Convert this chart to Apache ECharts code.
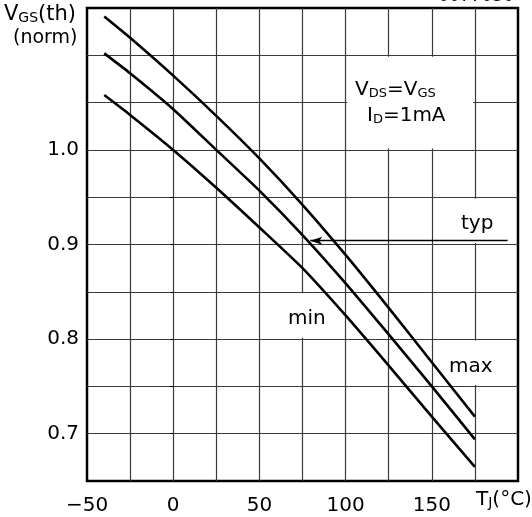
<!DOCTYPE html>
<html>
<head>
<meta charset="utf-8">
<script src="https://cdn.jsdelivr.net/npm/echarts@6/dist/echarts.min.js"></script>
<style>
html,body{margin:0;padding:0;background:#fff;}
#c{width:532px;height:517px;}
</style>
</head>
<body>
<div id="c"></div>
<script>
// Junction temperature (°C) sample points
const temps = [-40, -25, 0, 25, 50, 75, 100, 125, 150, 175];
// Normalised gate threshold voltage
const vMax = [1.141, 1.1185, 1.0785, 1.036, 0.991, 0.942, 0.889, 0.833, 0.7755, 0.718];
const vTyp = [1.102, 1.081, 1.043, 1.000, 0.957, 0.910, 0.859, 0.805, 0.750, 0.694];
const vMin = [1.058, 1.037, 1.000, 0.960, 0.918, 0.875, 0.825, 0.772, 0.718, 0.665];
// Tick labels
const xTickLabels = [-50, 0, 50, 100, 150];
const yTickLabels = [0.7, 0.8, 0.9, 1.0];

const FONT = 'DejaVu Sans';
const pair = (xs, ys) => xs.map((x, i) => [x, ys[i]]);

const chart = echarts.init(document.getElementById('c'), null, {renderer: 'canvas'});

const gridLine = {show: true, showMinLine: false, showMaxLine: false, lineStyle: {color: '#3a3a3a', width: 1.2}};
const curveStyle = {color: '#000', width: 2.6};

const option = {
  animation: false,
  backgroundColor: '#fff',
  grid: {left: 87, right: 14, top: 8, bottom: 36, show: true, borderColor: '#000', borderWidth: 2.5, containLabel: false},
  xAxis: {
    type: 'value', min: -50, max: 200, interval: 25,
    axisLine: {show: false}, axisTick: {show: false},
    splitLine: gridLine,
    axisLabel: {
      margin: 15, fontSize: 20, color: '#000', fontFamily: FONT,
      showMaxLabel: false,
      formatter: v => xTickLabels.includes(v) ? (v < 0 ? '\u2212' + Math.abs(v) : String(v)) : ''
    }
  },
  yAxis: {
    type: 'value', min: 0.65, max: 1.15, interval: 0.05,
    axisLine: {show: false},
    axisTick: {show: true, length: 3, lineStyle: {color: '#000', width: 1}},
    splitLine: gridLine,
    axisLabel: {
      margin: 8, fontSize: 20, color: '#000', fontFamily: FONT,
      formatter: v => {
        const r = Math.round(v * 100) / 100;
        return yTickLabels.some(t => Math.abs(t - r) < 1e-9) ? r.toFixed(1) : '';
      }
    }
  },
  series: [
    {
      // white patches that break the grid behind the annotations
      type: 'line', data: [[-50, 0.65]], symbol: 'none', lineStyle: {opacity: 0},
      z: 1, silent: true,
      markArea: {
        silent: true, emphasis: {disabled: true},
        itemStyle: {color: '#fff', opacity: 1, borderWidth: 0},
        label: {show: false},
        data: [
          [{coord: [101, 1.0015]}, {coord: [174, 1.0985]}],
          [{coord: [171, 0.9015]}, {coord: [179, 0.9485]}],
          [{coord: [71, 0.8015]}, {coord: [79, 0.8485]}],
          [{coord: [171, 0.7515]}, {coord: [179, 0.7985]}]
        ]
      }
    },
    {name: 'max', type: 'line', data: pair(temps, vMax), symbol: 'none', smooth: 0.2, lineStyle: curveStyle, z: 3, silent: true},
    {
      name: 'typ', type: 'line', data: pair(temps, vTyp), symbol: 'none', smooth: 0.2, lineStyle: curveStyle, z: 3, silent: true,
      markLine: {
        silent: true, animation: false,
        label: {show: false},
        lineStyle: {color: '#000', width: 1.3, type: 'solid'},
        emphasis: {disabled: true},
        data: [[
          {coord: [194, 0.904], symbol: 'none'},
          {coord: [79.5, 0.904], symbol: 'arrow', symbolSize: [6, 12]}
        ]]
      }
    },
    {name: 'min', type: 'line', data: pair(temps, vMin), symbol: 'none', smooth: 0.2, lineStyle: curveStyle, z: 3, silent: true}
  ],
  graphic: [
    {type: 'text', left: 4, top: 4, z: 10, style: {
      text: '{b|V}{s|GS}{b|(th)}', fill: '#000',
      rich: {b: {fontSize: 21, fontFamily: FONT, verticalAlign: 'bottom', lineHeight: 24}, s: {fontSize: 14, fontFamily: FONT, verticalAlign: 'bottom', lineHeight: 20}}
    }},
    {type: 'text', left: 13, top: 29, z: 10, style: {text: '(norm)', fill: '#000', font: '19px "DejaVu Sans"'}},
    {type: 'text', left: 355, top: 80, z: 10, style: {
      text: '{b|V}{s|DS}{b|=V}{s|GS}', fill: '#000',
      rich: {b: {fontSize: 20, fontFamily: FONT, verticalAlign: 'bottom', lineHeight: 22}, s: {fontSize: 13, fontFamily: FONT, verticalAlign: 'bottom', lineHeight: 18}}
    }},
    {type: 'text', left: 367, top: 106, z: 10, style: {
      text: '{b|I}{s|D}{b|=1mA}', fill: '#000',
      rich: {b: {fontSize: 20, fontFamily: FONT, verticalAlign: 'bottom', lineHeight: 22}, s: {fontSize: 13, fontFamily: FONT, verticalAlign: 'bottom', lineHeight: 18}}
    }},
    {type: 'text', left: 461, top: 214, z: 10, style: {text: 'typ', fill: '#000', font: '20px "DejaVu Sans"'}},
    {type: 'text', left: 288, top: 309, z: 10, style: {text: 'min', fill: '#000', font: '20px "DejaVu Sans"'}},
    {type: 'text', left: 449, top: 357, z: 10, style: {text: 'max', fill: '#000', font: '20px "DejaVu Sans"'}},
    {type: 'text', left: 476, top: 490, z: 10, style: {
      text: '{b|T}{s|J}{b|(°C)}', fill: '#000',
      rich: {b: {fontSize: 20, fontFamily: FONT, verticalAlign: 'bottom', lineHeight: 23}, s: {fontSize: 14, fontFamily: FONT, verticalAlign: 'bottom', lineHeight: 19}}
    }},
    {type: 'text', right: 18, top: -12, z: 10, style: {text: '0077030', fill: '#000', font: '17px "DejaVu Sans"'}}
  ]
};

chart.setOption(option);
</script>
</body>
</html>
